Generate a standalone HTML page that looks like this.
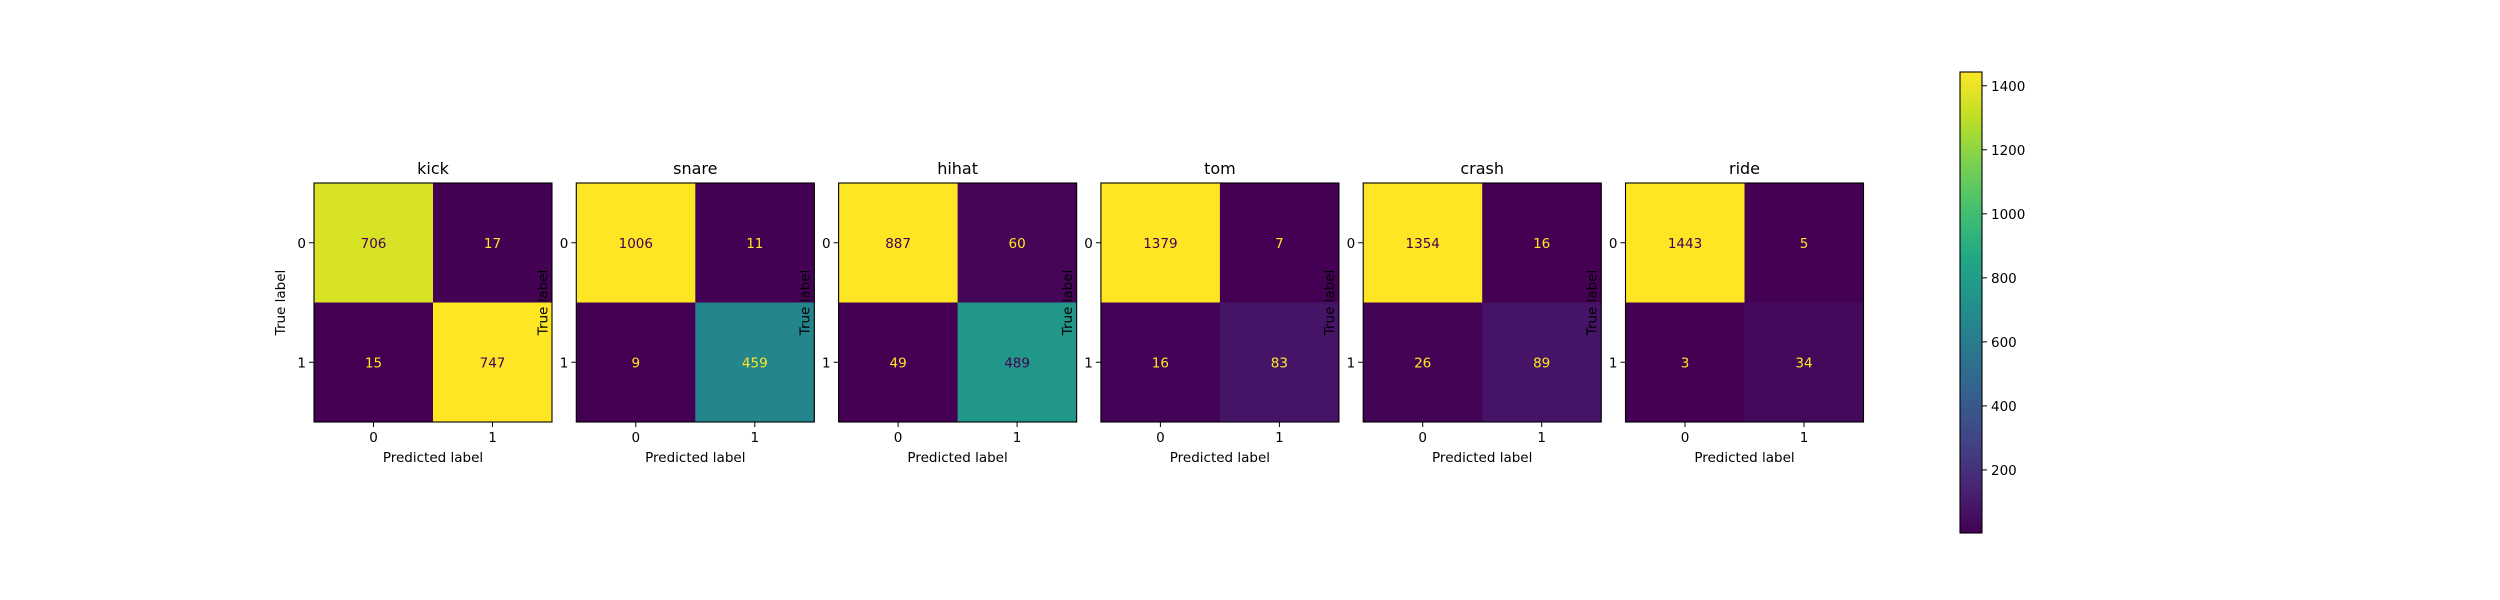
<!DOCTYPE html>
<html><head><meta charset="utf-8"><style>
html,body{margin:0;padding:0;background:#fff;}
svg{display:block;font-family:"DejaVu Sans","Liberation Sans",sans-serif;}
</style></head><body>
<svg id="fig" width="2500" height="600" viewBox="0 0 2500 600" xmlns="http://www.w3.org/2000/svg">
<rect width="2500" height="600" fill="#fff"/>
<defs><linearGradient id="vir" x1="0" y1="1" x2="0" y2="0"></linearGradient></defs>
</svg>
<script>
const titles = ["kick","snare","hihat","tom","crash","ride"];
const tn = [706,1006,887,1379,1354,1443];
const fp = [17,11,60,7,16,5];
const fn = [15,9,49,16,26,3];
const tp = [747,459,489,83,89,34];
const classLabels = ["0","1"];
const cbTicks = [200,400,600,800,1000,1200,1400];

const VIR = ["#440154","#482475","#414487","#355f8d","#2a788e","#21918c","#22a884","#44bf70","#7ad151","#bddf26","#fde725"];
function hex2rgb(h){return [parseInt(h.substr(1,2),16),parseInt(h.substr(3,2),16),parseInt(h.substr(5,2),16)];}
function viridis(t){
  t=Math.max(0,Math.min(1,t));
  const p=t*10, i=Math.min(9,Math.floor(p)), f=p-i;
  const a=hex2rgb(VIR[i]), b=hex2rgb(VIR[i+1]);
  return "rgb("+a.map((v,k)=>Math.round(v+(b[k]-v)*f)).join(",")+")";
}
const NS="http://www.w3.org/2000/svg";
const svg=document.getElementById('fig');
function mk(tag,attrs,parent){const e=document.createElementNS(NS,tag);for(const k in attrs)e.setAttribute(k,attrs[k]);(parent||svg).appendChild(e);return e;}

const AX0=314, AXW=238, STEP=262.3, TOP=183, AXH=239, FS='13.5';
titles.forEach((t,p)=>{
  const g=mk('g',{});
  
  
  const x0=AX0+p*STEP;
  const m=[[tn[p],fp[p]],[fn[p],tp[p]]];
  const all=[tn[p],fp[p],fn[p],tp[p]];
  const vmin=Math.min(...all), vmax=Math.max(...all), thr=(vmin+vmax)/2;
  const cw=AXW/2, ch=AXH/2;
  for(let r=0;r<2;r++)for(let c=0;c<2;c++){
    const v=m[r][c];
    const cell=mk('rect',{x:x0+c*cw,y:TOP+r*ch,width:cw+0.5,height:ch+0.5,fill:viridis((v-vmin)/(vmax-vmin))},g);
    
    
    const tx=mk('text',{x:x0+(c+0.5)*cw,y:TOP+(r+0.5)*ch+5,'text-anchor':'middle','font-size':FS,fill:v<thr?'#fde725':'#440154'},g);
    tx.textContent=v;
    
    
  }
  mk('rect',{x:x0,y:TOP,width:AXW,height:AXH,fill:'none',stroke:'#000','stroke-width':1.1},g);
  for(let i=0;i<2;i++){
    const cx=x0+(i+0.5)*cw, cy=TOP+(i+0.5)*ch;
    mk('line',{x1:cx,y1:TOP+AXH,x2:cx,y2:TOP+AXH+5,stroke:'#000'},g);
    const xl=mk('text',{x:cx,y:TOP+AXH+20,'text-anchor':'middle','font-size':FS,fill:'#000'},g);
    xl.textContent=classLabels[i];
    
    
    mk('line',{x1:x0-5,y1:cy,x2:x0,y2:cy,stroke:'#000'},g);
    const yl=mk('text',{x:x0-8,y:cy+5,'text-anchor':'end','font-size':FS,fill:'#000'},g);
    yl.textContent=classLabels[i];
    
    
  }
  const ti=mk('text',{x:x0+AXW/2,y:TOP-9,'text-anchor':'middle','font-size':'16',fill:'#000'},g);
  ti.textContent=t;
  
  
  const xt=mk('text',{x:x0+AXW/2,y:TOP+AXH+40,'text-anchor':'middle','font-size':FS,fill:'#000'},g);
  xt.textContent='Predicted label';
  
  
  const yx=x0-29, yy=TOP+AXH/2;
  const yt=mk('text',{x:yx,y:yy,'text-anchor':'middle','font-size':FS,fill:'#000',transform:'rotate(-90 '+yx+' '+yy+')'},g);
  yt.textContent='True label';
  
  
});

const last=titles.length-1;
const cbAll=[tn[last],fp[last],fn[last],tp[last]];
const cbMin=Math.min(...cbAll), cbMax=Math.max(...cbAll);
const grad=document.getElementById('vir');
VIR.forEach((c,i)=>mk('stop',{offset:(i*10)+'%','stop-color':c},grad));
const CBX=1960, CBW=22, CBT=72, CBB=533;
const cg=mk('g',{});


mk('rect',{x:CBX,y:CBT,width:CBW,height:CBB-CBT,fill:'url(#vir)',stroke:'#000','stroke-width':1.1},cg);
function cbY(v){return CBB-(v-cbMin)/(cbMax-cbMin)*(CBB-CBT);}
cbTicks.forEach(v=>{
  const y=cbY(v);
  mk('line',{x1:CBX+CBW,y1:y,x2:CBX+CBW+5,y2:y,stroke:'#000'},cg);
  const tl=mk('text',{x:CBX+CBW+9,y:y+5,'font-size':FS,fill:'#000'},cg);
  tl.textContent=v;
  
  
});
</script>
</body></html>
